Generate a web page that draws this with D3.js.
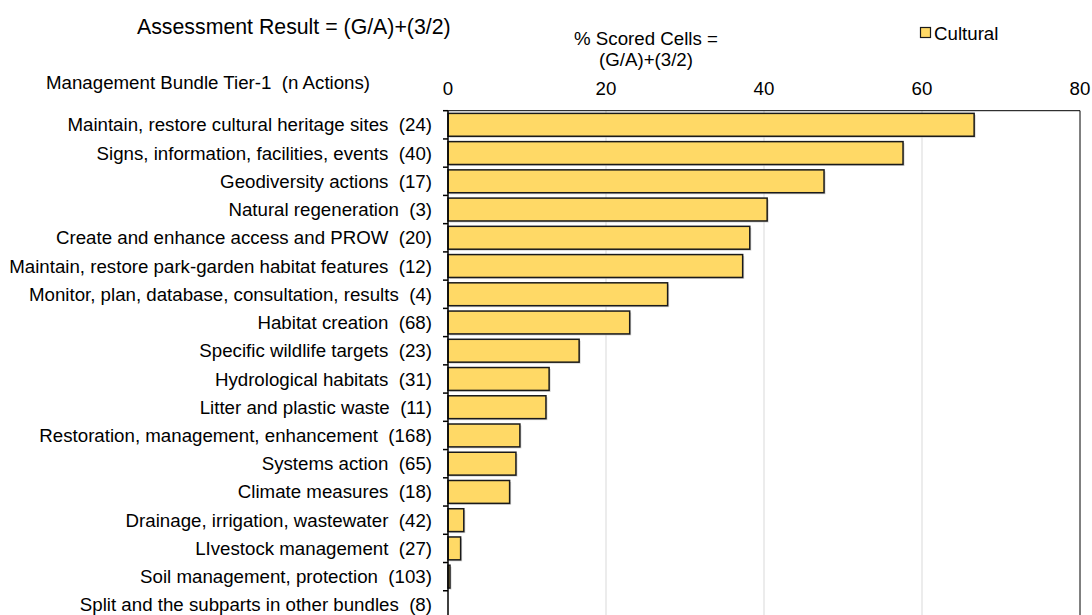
<!DOCTYPE html>
<html>
<head>
<meta charset="utf-8">
<script src="https://cdn.jsdelivr.net/npm/d3@7"></script>
<style>
  body { margin: 0; background: #fff; }
  svg { display: block; font-family: "Liberation Sans", Arial, sans-serif; }
  text { white-space: pre; }
</style>
</head>
<body>
<div id="chart"></div>
<script>
// bundles (top to bottom) and their % scored cells
var bundles = [
  "Maintain, restore cultural heritage sites  (24)",
  "Signs, information, facilities, events  (40)",
  "Geodiversity actions  (17)",
  "Natural regeneration  (3)",
  "Create and enhance access and PROW  (20)",
  "Maintain, restore park-garden habitat features  (12)",
  "Monitor, plan, database, consultation, results  (4)",
  "Habitat creation  (68)",
  "Specific wildlife targets  (23)",
  "Hydrological habitats  (31)",
  "Litter and plastic waste  (11)",
  "Restoration, management, enhancement  (168)",
  "Systems action  (65)",
  "Climate measures  (18)",
  "Drainage, irrigation, wastewater  (42)",
  "LIvestock management  (27)",
  "Soil management, protection  (103)",
  "Split and the subparts in other bundles  (8)"
];
var cultural = [66.6, 57.6, 47.6, 40.4, 38.2, 37.3, 27.8, 23.0, 16.6, 12.8, 12.4, 9.1, 8.6, 7.8, 2.0, 1.6, 0.25, 0];
var xTicks = [0, 20, 40, 60, 80];

var width = 1092, height = 615;
var plotL = 448, plotR = 1080, plotT = 110.7, plotB = 619;

var svg = d3.select("#chart").append("svg")
  .attr("width", width)
  .attr("height", height);

var x = d3.scaleLinear().domain([0, 80]).range([plotL, plotR]);
var y = d3.scaleBand().domain(bundles).range([plotT, plotB]).paddingInner(0.19).paddingOuter(0.095);
var rowH = (plotB - plotT) / bundles.length;

// gridlines
svg.append("g").selectAll("line")
  .data([20, 40, 60])
  .enter().append("line")
  .attr("x1", d => x(d)).attr("x2", d => x(d))
  .attr("y1", plotT).attr("y2", plotB)
  .attr("stroke", "#d9d9d9").attr("stroke-width", 1);

// plot frame (top + right)
svg.append("line").attr("x1", plotL).attr("x2", plotR).attr("y1", plotT).attr("y2", plotT)
  .attr("stroke", "#000").attr("stroke-width", 1);
svg.append("line").attr("x1", plotR).attr("x2", plotR).attr("y1", plotT).attr("y2", plotB)
  .attr("stroke", "#000").attr("stroke-width", 1);

// shadows
svg.append("g").selectAll("rect")
  .data(cultural)
  .enter().append("rect")
  .attr("x", x(0) + 1.5)
  .attr("y", (d, i) => y(bundles[i]) + 1.5)
  .attr("width", d => Math.max(0, x(d) - x(0)))
  .attr("height", y.bandwidth())
  .attr("fill", "#bfbfbf")
  .attr("opacity", d => d > 0 ? 0.7 : 0);

// bars
svg.append("g").selectAll("rect")
  .data(cultural)
  .enter().append("rect")
  .attr("x", x(0))
  .attr("y", (d, i) => y(bundles[i]))
  .attr("width", d => x(d) - x(0))
  .attr("height", y.bandwidth())
  .attr("fill", "#ffd966")
  .attr("stroke", "#1a1a1a")
  .attr("stroke-width", 1.5)
  .attr("opacity", d => d > 0 ? 1 : 0);

// y axis line and boundary ticks
svg.append("line").attr("x1", plotL).attr("x2", plotL).attr("y1", plotT).attr("y2", plotB)
  .attr("stroke", "#000").attr("stroke-width", 1.5);
svg.append("g").selectAll("line")
  .data(d3.range(bundles.length + 1))
  .enter().append("line")
  .attr("x1", plotL - 5).attr("x2", plotL)
  .attr("y1", i => plotT + i * rowH).attr("y2", i => plotT + i * rowH)
  .attr("stroke", "#000").attr("stroke-width", 1.5);

// category labels
svg.append("g").selectAll("text")
  .data(bundles)
  .enter().append("text")
  .attr("x", 432)
  .attr("y", d => y(d) + y.bandwidth() / 2)
  .attr("dy", "0.35em")
  .attr("text-anchor", "end")
  .attr("font-size", 18.7)
  .attr("fill", "#000")
  .text(d => d);

// x tick labels (top)
svg.append("g").selectAll("text")
  .data(xTicks)
  .enter().append("text")
  .attr("x", d => x(d))
  .attr("y", 95)
  .attr("text-anchor", "middle")
  .attr("font-size", 18.7)
  .text(d => d);

// titles
svg.append("text").attr("x", 137).attr("y", 34).attr("font-size", 21.3)
  .text("Assessment Result = (G/A)+(3/2)");
svg.append("text").attr("x", 46).attr("y", 89).attr("font-size", 18.7)
  .text("Management Bundle Tier-1  (n Actions)");
svg.append("text").attr("x", 646).attr("y", 45).attr("font-size", 18.7).attr("text-anchor", "middle")
  .text("% Scored Cells =");
svg.append("text").attr("x", 646).attr("y", 66).attr("font-size", 18.7).attr("text-anchor", "middle")
  .text("(G/A)+(3/2)");

// legend
svg.append("rect").attr("x", 920.5).attr("y", 27.5).attr("width", 10).attr("height", 10)
  .attr("fill", "#ffd966").attr("stroke", "#1a1a1a").attr("stroke-width", 1.2);
svg.append("text").attr("x", 934).attr("y", 39.5).attr("font-size", 18.7)
  .text("Cultural");
</script>
</body>
</html>
